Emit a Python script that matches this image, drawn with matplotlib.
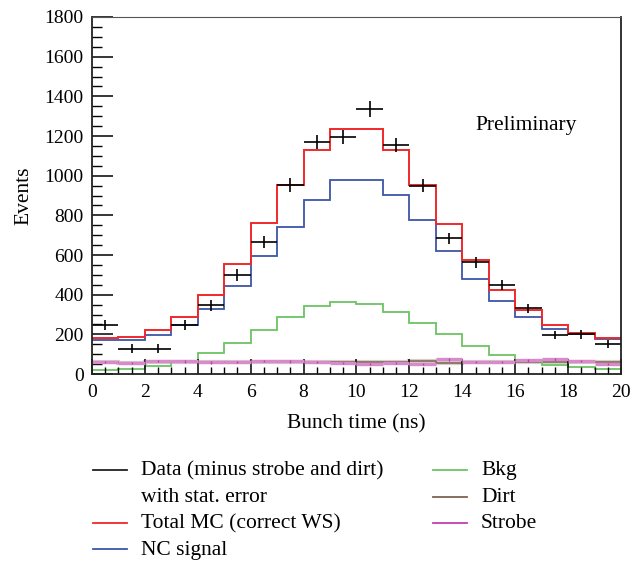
import numpy as np
import matplotlib.pyplot as plt
from matplotlib.lines import Line2D
from matplotlib.ticker import MultipleLocator

plt.rcParams["font.family"] = ["Liberation Serif", "DejaVu Serif"]

# bunch time binning, 1 ns bins from 0 to 20 ns
edges = np.arange(0, 21, 1)
centers = edges[:-1] + 0.5

data = [247, 128, 128, 247, 346, 499, 665, 953, 1168, 1193,
        1336, 1153, 949, 684, 564, 449, 331, 197, 200, 151]
data_err = [24, 21, 21, 24, 26, 28, 29, 33, 35, 35,
            38, 35, 33, 29, 27, 24, 23, 21, 21, 21]
total_mc = [180, 185, 222, 289, 400, 556, 759, 954, 1129, 1236,
            1236, 1127, 954, 758, 575, 423, 322, 247, 208, 180]
nc_signal = [171, 171, 195, 247, 329, 445, 595, 742, 877, 976,
             979, 904, 776, 620, 480, 368, 287, 229, 200, 175]
bkg = [20, 27, 42, 60, 104, 158, 222, 289, 344, 363,
       353, 312, 255, 202, 143, 94, 67, 44, 34, 25]
dirt = [62, 57, 61, 61, 61, 60, 60, 60, 59, 59,
        59, 59, 65, 57, 60, 60, 60, 60, 60, 60]
strobe = [60, 57, 66, 64, 59, 61, 66, 64, 60, 57,
          49, 56, 49, 74, 60, 61, 69, 74, 65, 49]
strobe_err = [6, 6, 6, 6, 6, 6, 6, 6, 6, 6,
              6, 6, 6, 6, 6, 6, 6, 6, 6, 6]

c_red = "#f0282a"
c_blue = "#3e55a8"
c_green = "#6cc463"
c_brown = "#7d6352"
c_magenta = "#c040b0"

fig = plt.figure(figsize=(6.41, 5.61), dpi=100)
ax = fig.add_axes([0.1435, 0.3333, 0.8253, 0.6364])

# dirt with a faint band, strobe as points with bin-width bars
ax.stairs(dirt, edges, baseline=None, color="#b8aca4", lw=3.0, alpha=0.6)
ax.stairs(dirt, edges, baseline=None, color=c_brown, lw=1.1)
ax.errorbar(centers, strobe, xerr=0.5, fmt="none", ecolor="#d88acc",
            elinewidth=2.4, capsize=0)
ax.errorbar(centers, strobe, yerr=strobe_err, fmt="none", ecolor=c_magenta,
            elinewidth=1.0, capsize=0)
ax.stairs(bkg, edges, baseline=None, color=c_green, lw=1.3)
ax.stairs(nc_signal, edges, baseline=None, color=c_blue, lw=1.3)
ax.stairs(total_mc, edges, baseline=None, color=c_red, lw=1.4)
ax.errorbar(centers, data, xerr=0.5, yerr=data_err, fmt="none",
            ecolor="black", elinewidth=1.2, capsize=0)

ax.set_xlim(0, 20)
ax.set_ylim(0, 1800)
ax.xaxis.set_major_locator(MultipleLocator(2))
ax.xaxis.set_minor_locator(MultipleLocator(0.5))
ax.yaxis.set_major_locator(MultipleLocator(200))
ax.yaxis.set_minor_locator(MultipleLocator(50))
ax.tick_params(axis="x", which="major", direction="in", length=11, width=1.1,
               labelsize=14, pad=7)
ax.tick_params(axis="x", which="minor", direction="in", length=5, width=1.0)
ax.tick_params(axis="y", which="major", direction="in", length=15, width=1.1,
               labelsize=14, pad=6)
ax.tick_params(axis="y", which="minor", direction="in", length=7, width=1.0)

for side in ["left", "bottom", "right"]:
    ax.spines[side].set_linewidth(1.3)
    ax.spines[side].set_color("#222222")
ax.spines["top"].set_linewidth(0.8)
ax.spines["top"].set_color("#555555")

ax.set_xlabel("Bunch time (ns)", fontsize=15.5, labelpad=10)
ax.set_ylabel("Events", fontsize=15.5, labelpad=8)
ax.text(0.725, 0.695, "Preliminary", transform=ax.transAxes, fontsize=15.5,
        ha="left", va="center")

# legend below the axes, two columns
W, H = 641.0, 561.0
entries = [
    (93, 470, "#222222", "Data (minus strobe and dirt)"),
    (93, 497, None, "with stat. error"),
    (93, 523, c_red, "Total MC (correct WS)"),
    (93, 549, c_blue, "NC signal"),
    (433, 470, c_green, "Bkg"),
    (433, 497, c_brown, "Dirt"),
    (433, 523, c_magenta, "Strobe"),
]
for x0, y0, col, label in entries:
    if col is not None:
        fig.add_artist(Line2D([x0 / W, (x0 + 34) / W],
                              [1 - y0 / H, 1 - y0 / H], color=col, lw=1.3))
    fig.text((x0 + 48) / W, 1 - (y0 + 1) / H, label, fontsize=15.5,
             ha="left", va="center")

fig.savefig("out.png", dpi=100)
